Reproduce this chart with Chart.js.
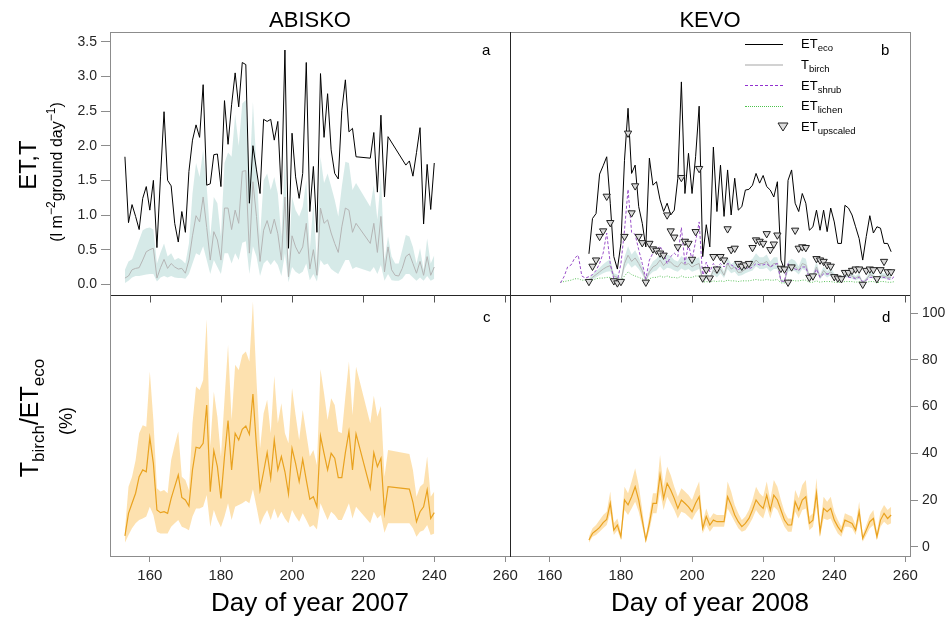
<!DOCTYPE html>
<html>
<head>
<meta charset="utf-8">
<script src="https://cdn.jsdelivr.net/npm/chart.js@4/dist/chart.umd.min.js"></script>
<style>
  body { margin: 0; background: #fff; font-family: "Liberation Sans", Arial, sans-serif; }
  #wrap { position: relative; width: 951px; height: 621px; overflow: hidden; }
  canvas { position: absolute; left: 0; top: 0; }
  .t { position: absolute; white-space: nowrap; color: #000; line-height: 1; }
  .rot { transform: translate(-50%, -50%) rotate(-90deg); }
  .lg { position: absolute; left: 801px; font-size: 13px; line-height: 16px; white-space: nowrap; }
  .lg sub { font-size: 9.5px; vertical-align: -3px; }
  .smp { position: absolute; left: 745px; width: 38px; height: 0; }
  .letter { position: absolute; font-size: 15px; line-height: 1; }
</style>
</head>
<body>
<div id="wrap">
  <canvas id="cA" width="951" height="621"></canvas>
  <canvas id="cB" width="951" height="621"></canvas>
  <canvas id="cC" width="951" height="621"></canvas>
  <canvas id="cD" width="951" height="621"></canvas>

  <div class="t rot" style="left:28px; top:165px; font-size:24px;">ET,T</div>
  <div class="t rot" style="left:55px; top:172px; font-size:16px;">(l m<sup style="font-size:12px">−2</sup>ground day<sup style="font-size:12px">−1</sup>)</div>
  <div class="t rot" style="left:32px; top:418px; font-size:25px;">T<sub style="font-size:17px">birch</sub>/ET<sub style="font-size:17px">eco</sub></div>
  <div class="t rot" style="left:66px; top:421px; font-size:18px;">(%)</div>

  <div class="letter" style="left:482px; top:42px;">a</div>
  <div class="letter" style="left:881px; top:42px;">b</div>
  <div class="letter" style="left:483px; top:309px;">c</div>
  <div class="letter" style="left:882px; top:309px;">d</div>

  <div class="smp" style="top:44px; border-top:1px solid #000;"></div>
  <div class="smp" style="top:64px; border-top:2px solid #d2d2d2;"></div>
  <div class="smp" style="top:85px; border-top:1px dashed #9230d0;"></div>
  <div class="smp" style="top:106px; border-top:1px dotted #4cc24c;"></div>
  <svg style="position:absolute; left:777px; top:122px;" width="12" height="10"><polygon points="1,1 11,1 6,9" fill="#ddd" stroke="#222" stroke-width="1"/></svg>
  <div class="lg" style="top:36px;">ET<sub>eco</sub></div>
  <div class="lg" style="top:57px;">T<sub>birch</sub></div>
  <div class="lg" style="top:78px;">ET<sub>shrub</sub></div>
  <div class="lg" style="top:98px;">ET<sub>lichen</sub></div>
  <div class="lg" style="top:119px;">ET<sub>upscaled</sub></div>
</div>
<script>
const FONT = '"Liberation Sans", Arial, sans-serif';

// tick labels
const dayTicks = [160, 180, 200, 220, 240, 260];
const etTicks = [0, 0.5, 1, 1.5, 2, 2.5, 3, 3.5];
const pctTicks = [0, 20, 40, 60, 80, 100];

// ---- Abisko 2007 ----
const abiskoEtDays = [153,154,155,156,157,158,159,160,161,162,163,164,165,166,167,168,169,170,171,172,
  173,174,175,176,177,178,179,180,181,182,183,184,185,186,187,188,189,190,191,192,
  193,194,195,196,197,198,199,200,201,202,203,204,205,206,207,208,209,210,211,212,
  213,214,215,216,217,218,222,223,224,225,226,227,232,233,234,235,236,237,238,239,240];
const abiskoEt = [1.84,0.89,1.15,0.98,0.79,1.24,1.41,1.07,1.50,0.53,1.55,2.49,1.50,1.42,0.88,0.61,1.05,0.75,1.63,2.08,
  2.30,2.12,2.88,1.43,1.45,1.87,1.88,1.41,2.65,2.02,2.59,3.05,2.56,3.20,3.17,1.17,2.00,1.65,1.31,2.38,
  2.35,2.38,2.08,2.35,1.30,3.38,0.52,2.18,1.55,1.24,1.60,3.20,1.05,1.70,0.75,3.04,2.12,2.75,1.94,1.60,
  1.52,2.51,2.95,2.20,2.25,1.84,1.82,2.19,1.33,2.44,1.26,2.13,1.72,1.78,1.56,1.90,2.26,0.87,1.73,1.08,1.75];

const abiskoTDays = [153,154,155,156,157,158,159,160,161,162,163,164,165,166,167,168,169,170,171,172,
  173,174,175,176,177,178,179,180,181,182,183,184,185,186,187,188,189,190,191,192,
  193,194,195,196,197,198,199,200,201,202,203,204,205,206,207,208,209,210,211,212,
  213,214,215,216,217,218,222,223,224,225,226,227,228,229,230,231,232,233,234,235,
  236,237,238,239,240];
const abiskoT = [0.09,0.12,0.21,0.23,0.24,0.35,0.47,0.50,0.52,0.09,0.24,0.36,0.23,0.30,0.25,0.22,0.23,0.16,0.35,0.70,
  0.99,0.90,1.26,0.82,0.35,0.76,0.64,0.35,1.10,1.10,0.79,1.07,0.88,1.63,1.64,0.45,1.48,0.98,0.33,0.78,
  0.92,0.73,0.94,0.73,0.35,1.26,0.11,0.70,0.54,0.44,0.54,0.88,0.22,0.50,0.13,1.10,0.88,0.93,0.74,0.59,
  0.46,0.83,1.10,1.07,0.75,0.88,0.59,0.88,0.46,0.98,0.18,0.54,0.21,0.13,0.12,0.23,0.40,0.44,0.30,0.16,
  0.33,0.13,0.40,0.13,0.25];
const abiskoTHi = [0.21,0.33,0.36,0.50,0.64,0.78,0.81,0.82,0.79,0.30,0.46,0.59,0.40,0.45,0.35,0.38,0.35,0.30,0.59,1.31,
  1.75,1.55,1.94,1.41,0.69,1.26,1.17,0.69,1.75,1.90,1.84,2.45,2.00,2.61,2.66,1.50,2.63,1.70,0.69,1.50,
  1.60,1.36,1.55,1.31,0.69,1.84,0.30,1.26,1.07,0.98,1.12,1.50,0.50,1.17,0.30,1.84,1.46,1.60,1.41,1.22,
  0.98,1.41,1.77,1.75,1.36,1.46,1.12,1.43,0.93,1.55,0.35,0.69,0.40,0.30,0.30,0.50,0.71,0.69,0.54,0.30,
  0.52,0.21,0.66,0.30,0.42];
const abiskoTLo = [0.02,0.05,0.10,0.12,0.12,0.13,0.14,0.15,0.15,0.04,0.10,0.12,0.10,0.12,0.10,0.09,0.09,0.08,0.15,0.30,
  0.45,0.42,0.55,0.35,0.15,0.35,0.25,0.15,0.45,0.45,0.30,0.45,0.35,0.60,0.62,0.15,0.55,0.40,0.12,0.30,
  0.35,0.28,0.35,0.28,0.12,0.45,0.03,0.25,0.18,0.15,0.18,0.30,0.06,0.15,0.04,0.35,0.28,0.30,0.22,0.18,
  0.15,0.25,0.35,0.35,0.22,0.25,0.18,0.25,0.15,0.28,0.05,0.15,0.06,0.05,0.05,0.08,0.15,0.15,0.10,0.05,
  0.10,0.05,0.12,0.05,0.08];

const abiskoRatioDays = [153,154,155,156,157,158,159,160,161,162,163,164,165,166,167,168,169,170,171,172,
  173,174,175,176,177,178,179,180,181,182,183,184,185,186,187,188,189,190,191,192,
  193,194,195,196,197,198,199,200,201,202,203,204,205,206,207,208,209,210,211,212,
  213,214,215,216,217,218,222,223,224,225,226,227,233,234,235,236,237,238,239,240];
const abiskoRatio = [4.6,14.3,18.6,22.9,30.0,32.9,32.1,46.7,35.7,15.7,14.6,15.0,14.3,20.7,25.7,30.7,21.1,20.0,17.4,32.9,
  42.6,42.1,44.3,60.7,23.6,41.1,34.3,20.7,38.6,54.0,32.9,48.6,45.7,50.3,51.7,48.1,65.4,42.9,24.3,32.1,
  40.3,29.3,45.7,32.9,38.6,32.1,22.6,42.1,35.7,27.9,37.4,28.6,20.3,21.4,17.1,47.4,40.0,32.9,40.0,37.9,
  29.6,29.6,40.3,49.3,32.9,48.3,25.0,40.3,34.3,37.9,14.6,25.7,24.7,19.0,10.7,15.0,17.1,24.3,12.1,14.6];
const abiskoRatioHi = [7.1,25.7,30.0,37.0,48.6,52.0,51.4,75.0,54.3,25.0,23.6,24.3,22.9,37.1,43.6,49.3,30.0,28.6,24.3,52.9,
  68.6,67.1,71.4,97.4,42.9,66.4,55.7,38.6,62.9,86.4,54.3,77.9,75.7,82.1,83.6,79.3,105.0,71.4,42.1,57.1,
  62.9,48.6,73.1,52.9,61.4,48.6,44.3,67.9,56.4,45.7,58.6,48.6,38.6,41.4,35.0,76.0,65.7,54.3,63.6,60.7,
  49.3,48.6,64.3,79.3,56.4,77.1,52.9,64.6,55.7,60.3,30.0,41.4,39.7,32.9,21.4,25.7,27.1,38.6,21.4,23.6];
const abiskoRatioLo = [1.7,5.0,7.9,10.0,11.4,12.1,12.9,17.1,13.6,6.4,5.7,5.7,5.7,8.6,10.0,11.4,8.6,7.9,7.1,12.9,
  16.4,16.4,17.1,22.1,8.6,15.7,11.4,8.3,12.9,18.6,11.4,17.1,17.9,18.6,19.7,18.6,24.6,17.1,9.3,12.9,
  15.7,11.4,16.4,12.1,15.0,12.1,10.0,15.7,12.9,10.7,14.3,11.4,8.3,9.3,7.4,18.6,15.0,11.4,15.0,13.6,
  11.4,11.4,15.0,18.6,12.1,17.1,10.0,15.0,12.1,13.6,6.0,10.0,10.0,7.9,4.3,6.4,7.1,9.3,5.0,5.7];

// ---- Kevo 2008 ----
const kevoDays = [171,172,173,174,175,176,177,178,179,180,181,182,183,184,185,186,187,188,189,190,
  191,192,193,194,195,196,197,198,199,200,201,202,203,204,205,206,207,208,209,210,
  211,212,213,214,215,216,217,218,219,220,221,222,223,224,225,226,227,228,229,230,
  231,232,233,234,235,236,237,238,239,240,241,242,243,244,245,246,247,248,249,250,
  251,252,253,254,255,256];
const kevoEt = [0.44,0.95,1.02,1.59,1.71,1.84,1.17,0.40,0.22,0.59,1.79,2.54,1.60,1.72,1.12,0.88,0.54,1.82,1.43,1.48,
  1.22,1.05,1.17,1.00,1.07,1.53,2.92,1.31,1.89,1.31,1.84,2.57,0.40,0.86,0.54,1.98,1.05,1.72,0.98,1.65,
  1.00,1.53,1.07,1.12,1.36,1.37,1.43,1.60,1.46,1.57,1.41,1.36,1.26,1.48,0.35,0.21,1.50,1.65,1.17,1.05,
  1.31,1.17,0.78,0.83,1.07,0.78,1.07,0.76,1.10,0.90,0.59,0.59,1.14,1.10,1.00,0.83,0.66,0.35,0.69,0.99,
  0.74,0.83,0.81,0.59,0.59,0.47];
const kevoUpscaled = [0.04,0.26,0.35,0.69,0.77,1.27,0.89,0.05,0.02,0.04,0.69,2.18,1.03,1.42,0.69,0.60,0.03,0.59,0.51,0.49,
  0.45,0.42,1.00,0.77,0.68,0.54,1.54,0.62,0.59,0.36,0.76,1.67,0.09,0.21,0.09,0.40,0.22,0.40,0.35,0.80,
  0.50,0.52,0.30,0.26,0.28,0.30,0.53,0.64,0.62,0.59,0.73,0.50,0.58,0.71,0.23,0.22,0.03,0.25,0.78,0.52,
  0.54,0.53,0.10,0.12,0.37,0.35,0.33,0.28,0.26,0.11,0.09,0.08,0.17,0.17,0.20,0.22,0.22,0.00,0.20,0.22,
  0.21,0.08,0.21,0.33,0.18,0.18];
const kevoT = [0.05,0.10,0.14,0.18,0.22,0.25,0.27,0.12,0.10,0.05,0.30,0.42,0.33,0.38,0.30,0.20,0.06,0.18,0.25,0.28,
  0.35,0.27,0.33,0.32,0.27,0.25,0.32,0.28,0.30,0.25,0.28,0.30,0.05,0.12,0.08,0.20,0.15,0.22,0.13,0.30,
  0.22,0.25,0.17,0.18,0.22,0.25,0.28,0.35,0.30,0.30,0.33,0.25,0.30,0.30,0.05,0.04,0.25,0.28,0.26,0.20,
  0.30,0.28,0.10,0.12,0.25,0.10,0.20,0.14,0.18,0.12,0.08,0.07,0.14,0.14,0.12,0.09,0.12,0.02,0.07,0.14,
  0.12,0.05,0.12,0.12,0.10,0.10];
const kevoTHi = [0.08,0.14,0.19,0.24,0.29,0.33,0.36,0.16,0.14,0.08,0.39,0.55,0.43,0.49,0.39,0.26,0.09,0.24,0.33,0.37,
  0.45,0.35,0.43,0.41,0.35,0.33,0.41,0.37,0.39,0.33,0.37,0.39,0.08,0.16,0.11,0.26,0.20,0.29,0.18,0.39,
  0.29,0.33,0.23,0.24,0.29,0.33,0.37,0.45,0.39,0.39,0.43,0.33,0.39,0.39,0.08,0.06,0.33,0.37,0.34,0.26,
  0.39,0.37,0.14,0.16,0.33,0.14,0.26,0.19,0.24,0.16,0.11,0.10,0.19,0.19,0.16,0.12,0.16,0.04,0.10,0.19,
  0.16,0.07,0.16,0.16,0.14,0.14];
const kevoTLo = [0.03,0.07,0.10,0.13,0.16,0.18,0.19,0.08,0.07,0.03,0.22,0.31,0.24,0.28,0.22,0.14,0.04,0.13,0.18,0.20,
  0.26,0.20,0.24,0.23,0.20,0.18,0.23,0.20,0.22,0.18,0.20,0.22,0.03,0.08,0.05,0.14,0.10,0.16,0.09,0.22,
  0.16,0.18,0.12,0.13,0.16,0.18,0.20,0.26,0.22,0.22,0.24,0.18,0.22,0.22,0.03,0.02,0.18,0.20,0.19,0.14,
  0.22,0.20,0.07,0.08,0.18,0.07,0.14,0.10,0.13,0.08,0.05,0.05,0.10,0.10,0.08,0.06,0.08,0.01,0.05,0.10,
  0.08,0.03,0.08,0.08,0.07,0.07];

const kevoUnderDays = [163,164,165,166,167,168,169,170,171,172,173,174,175,176,177,178,179,180,181,182,
  183,184,185,186,187,188,189,190,191,192,193,194,195,196,197,198,199,200,201,202,
  203,204,205,206,207,208,209,210,211,212,213,214,215,216,217,218,219,220,221,222,
  223,224,225,226,227,228,229,230,231,232,233,234,235,236,237,238,239,240,241,242,
  243,244,245,246,247,248,249,250,251,252,253,254,255,256,257];
const kevoShrub = [0.02,0.11,0.25,0.28,0.38,0.42,0.12,0.09,0.11,0.14,0.20,0.30,0.45,0.74,0.30,0.08,0.05,0.30,0.78,1.37,
  0.75,0.72,0.50,0.30,0.08,0.35,0.45,0.50,0.55,0.45,0.30,0.40,0.45,0.40,0.82,0.30,0.58,0.35,0.62,0.90,
  0.10,0.32,0.18,0.30,0.25,0.30,0.25,0.30,0.28,0.25,0.20,0.28,0.25,0.22,0.25,0.30,0.28,0.28,0.30,0.25,
  0.28,0.30,0.05,0.04,0.30,0.25,0.22,0.20,0.25,0.25,0.08,0.10,0.22,0.10,0.15,0.15,0.15,0.10,0.08,0.08,
  0.12,0.10,0.10,0.08,0.10,0.04,0.06,0.10,0.10,0.06,0.10,0.10,0.08,0.07,0.12];
const kevoLichen = [0.03,0.04,0.05,0.06,0.08,0.08,0.06,0.06,0.05,0.06,0.08,0.09,0.09,0.10,0.10,0.06,0.05,0.05,0.12,0.18,
  0.14,0.12,0.10,0.08,0.04,0.08,0.10,0.10,0.12,0.10,0.12,0.10,0.10,0.09,0.12,0.10,0.10,0.10,0.12,0.12,
  0.03,0.04,0.03,0.05,0.04,0.05,0.04,0.06,0.05,0.05,0.04,0.05,0.05,0.05,0.06,0.07,0.06,0.06,0.07,0.06,
  0.06,0.07,0.02,0.02,0.06,0.06,0.05,0.05,0.06,0.06,0.03,0.03,0.05,0.03,0.04,0.04,0.04,0.03,0.03,0.03,
  0.04,0.04,0.04,0.03,0.04,0.02,0.03,0.04,0.04,0.02,0.04,0.04,0.03,0.03,0.04];

const kevoRatio = [2.9,5.7,6.9,8.3,10.3,11.7,18.6,7.1,9.3,4.3,20.0,17.9,21.4,25.7,20.0,11.4,2.9,10.0,18.6,18.6,
  30.7,20.7,27.1,24.3,20.7,16.4,20.0,18.6,17.1,15.0,18.6,21.4,7.9,12.9,9.3,11.4,10.7,10.7,10.7,21.4,
  17.9,13.6,10.7,8.6,10.0,12.1,15.7,20.0,17.9,16.4,22.1,15.7,22.1,20.0,15.7,11.4,9.3,9.3,19.3,15.7,
  20.0,21.4,10.0,11.4,22.9,6.4,16.4,15.0,16.4,11.4,8.6,6.4,11.4,10.7,10.0,7.1,15.0,3.6,7.1,10.7,
  12.1,4.3,11.4,14.3,12.1,13.6];
const kevoRatioHi = [4.3,7.9,9.3,11.4,13.6,15.0,23.6,10.0,12.1,6.4,25.7,22.9,27.9,33.6,26.4,15.7,4.3,13.6,22.9,22.9,
  39.3,25.7,34.3,30.7,25.7,21.4,25.0,23.6,22.1,20.0,24.3,27.9,10.7,16.4,12.1,14.3,13.6,13.6,13.6,27.9,
  23.6,17.9,14.3,11.4,12.9,15.7,20.0,25.7,22.9,21.4,27.9,20.0,28.6,25.7,20.0,15.0,12.1,12.1,24.3,20.7,
  26.4,28.6,12.9,14.3,29.3,8.6,21.4,19.3,21.4,15.0,11.4,8.6,14.3,13.6,12.9,9.3,19.3,5.0,9.3,13.6,
  15.7,6.4,15.0,17.9,15.7,17.1];
const kevoRatioLo = [1.7,4.3,5.0,6.4,7.9,9.3,14.3,5.0,7.1,2.9,15.7,13.6,16.4,19.3,15.0,8.6,1.7,7.1,14.3,14.3,
  23.6,15.7,21.4,18.6,15.7,12.1,15.0,14.3,12.9,11.4,14.3,16.4,5.7,9.3,6.4,8.6,8.6,8.6,8.6,16.4,
  13.6,10.7,7.9,6.4,7.1,9.3,12.1,15.7,13.6,12.1,17.1,12.1,17.1,15.7,12.1,8.6,6.4,6.4,15.0,12.1,
  15.7,16.4,7.1,8.6,17.1,4.3,12.1,11.4,12.1,8.6,5.7,4.3,8.6,8.6,7.9,5.0,11.4,2.1,5.0,7.9,
  9.3,2.9,8.6,10.7,9.3,10.0];

const TEAL = 'rgba(120,185,180,0.3)';
const ORANGE_BAND = 'rgba(250,180,55,0.4)';
const ORANGE = '#e9a21f';

function pts(days, vals) {
  return days.map((d, i) => ({ x: d, y: vals[i] }));
}

Chart.defaults.font.family = FONT;
Chart.defaults.animation = false;
Chart.defaults.elements.point.radius = 0;
Chart.defaults.elements.line.tension = 0;

const framePlugin = {
  id: 'frame',
  afterDraw(chart, args, opts) {
    const { left, right, top, bottom } = chart.chartArea;
    const ctx = chart.ctx;
    const dark = opts.dark || [];
    const side = (name, x1, y1, x2, y2) => {
      ctx.strokeStyle = dark.includes(name) ? '#262626' : '#8c8c8c';
      ctx.beginPath();
      ctx.moveTo(x1, y1);
      ctx.lineTo(x2, y2);
      ctx.stroke();
    };
    ctx.save();
    ctx.lineWidth = 1;
    side('top', left, top + 0.5, right + 1, top + 0.5);
    side('bottom', left, bottom + 0.5, right + 1, bottom + 0.5);
    side('left', left + 0.5, top, left + 0.5, bottom + 1);
    side('right', right + 0.5, top, right + 0.5, bottom + 1);
    // inward ticks on the upper edge of the lower panels
    if (opts.innerTicks) {
      ctx.strokeStyle = '#555';
      dayTicks.forEach(v => {
        const x = Math.round(chart.scales.x.getPixelForValue(v)) + 0.5;
        ctx.beginPath();
        ctx.moveTo(x, top + 0.5);
        ctx.lineTo(x, top + 7.5);
        ctx.stroke();
      });
    }
    ctx.restore();
  }
};

function xScale(show, title) {
  return {
    type: 'linear', min: 148.8, max: 261.3, display: show,
    afterBuildTicks: s => { s.ticks = dayTicks.map(v => ({ value: v })); },
    afterFit: s => { if (show) s.height = 65; },
    grid: { drawOnChartArea: false, drawTicks: true, tickLength: 6, color: '#8c8c8c' },
    border: { display: false },
    ticks: { font: { size: 15 }, color: '#262626', padding: 5, maxRotation: 0 },
    title: { display: !!title, text: title, color: '#000', font: { size: 26 }, padding: { top: 0, bottom: 2 } }
  };
}

function topTitle(text) {
  return {
    display: true, text, color: '#000', fullSize: false,
    font: { size: 22, weight: 'normal', lineHeight: '23px' },
    padding: { top: 9, bottom: 0 }
  };
}

function baseOptions(padding, scales, plugins) {
  return {
    responsive: false,
    layout: { padding },
    scales,
    plugins: Object.assign({
      legend: { display: false },
      tooltip: { enabled: false },
      filler: { drawTime: 'beforeDatasetsDraw' }
    }, plugins)
  };
}

// a: Abisko ET and T
new Chart(document.getElementById('cA'), {
  type: 'line',
  data: {
    datasets: [
      { data: pts(abiskoEtDays, abiskoEt), borderColor: '#000', borderWidth: 1 },
      { data: pts(abiskoTDays, abiskoT), borderColor: '#b4b4b4', borderWidth: 1 },
      { data: pts(abiskoTDays, abiskoTHi), borderWidth: 0, backgroundColor: TEAL, fill: '+1' },
      { data: pts(abiskoTDays, abiskoTLo), borderWidth: 0, fill: false }
    ]
  },
  options: baseOptions({ left: 0, top: 0, right: 441, bottom: 326 }, {
    x: xScale(false),
    y: {
      min: -0.154, max: 3.64,
      afterBuildTicks: s => { s.ticks = etTicks.map(v => ({ value: v })); },
      afterFit: s => { s.width = 110; },
      grid: { drawOnChartArea: false, tickLength: 9, color: '#8c8c8c' },
      border: { display: false },
      ticks: { font: { size: 14 }, color: '#262626', padding: 4, callback: v => v.toFixed(1) }
    }
  }, { title: topTitle('ABISKO'), frame: { dark: ['right', 'bottom'] } }),
  plugins: [framePlugin]
});

// b: Kevo ET components
new Chart(document.getElementById('cB'), {
  type: 'line',
  data: {
    datasets: [
      { data: pts(kevoDays, kevoUpscaled), showLine: false, pointStyle: 'triangle', rotation: 180,
        pointRadius: 4.2, borderColor: '#222', backgroundColor: '#dadada', borderWidth: 1 },
      { data: pts(kevoDays, kevoEt), borderColor: '#000', borderWidth: 1 },
      { data: pts(kevoUnderDays, kevoShrub), borderColor: '#9a4fc9', borderWidth: 1, borderDash: [3, 2] },
      { data: pts(kevoUnderDays, kevoLichen), borderColor: '#5cc25c', borderWidth: 1, borderDash: [1, 1.5] },
      { data: pts(kevoDays, kevoT), borderColor: '#b4b4b4', borderWidth: 1 },
      { data: pts(kevoDays, kevoTHi), borderWidth: 0, backgroundColor: TEAL, fill: '+1' },
      { data: pts(kevoDays, kevoTLo), borderWidth: 0, fill: false }
    ]
  },
  options: baseOptions({ left: 510, top: 0, right: 41, bottom: 326 }, {
    x: xScale(false),
    y: { min: -0.154, max: 3.64, display: false }
  }, { title: topTitle('KEVO'), frame: { dark: ['left', 'bottom'] } }),
  plugins: [framePlugin]
});

// c: Abisko T/ET ratio
new Chart(document.getElementById('cC'), {
  type: 'line',
  data: {
    datasets: [
      { data: pts(abiskoRatioDays, abiskoRatio), borderColor: ORANGE, borderWidth: 1.2 },
      { data: pts(abiskoRatioDays, abiskoRatioHi), borderWidth: 0, backgroundColor: ORANGE_BAND, fill: '+1' },
      { data: pts(abiskoRatioDays, abiskoRatioLo), borderWidth: 0, fill: false }
    ]
  },
  options: baseOptions({ left: 110, top: 295, right: 441, bottom: 0 }, {
    x: xScale(true, 'Day of year 2007'),
    y: { min: -3.98, max: 107.8, display: false }
  }, { frame: { dark: ['top', 'right'], innerTicks: true } }),
  plugins: [framePlugin]
});

// d: Kevo T/ET ratio
new Chart(document.getElementById('cD'), {
  type: 'line',
  data: {
    datasets: [
      { data: pts(kevoDays, kevoRatio), borderColor: ORANGE, borderWidth: 1.2 },
      { data: pts(kevoDays, kevoRatioHi), borderWidth: 0, backgroundColor: ORANGE_BAND, fill: '+1' },
      { data: pts(kevoDays, kevoRatioLo), borderWidth: 0, fill: false }
    ]
  },
  options: baseOptions({ left: 510, top: 295, right: 0, bottom: 0 }, {
    x: xScale(true, 'Day of year 2008'),
    y: {
      position: 'right', min: -3.98, max: 107.8,
      afterBuildTicks: s => { s.ticks = pctTicks.map(v => ({ value: v })); },
      afterFit: s => { s.width = 41; },
      grid: { drawOnChartArea: false, tickLength: 8, color: '#8c8c8c' },
      border: { display: false },
      ticks: { font: { size: 14 }, color: '#262626', padding: 4 }
    }
  }, { frame: { dark: ['top', 'left'], innerTicks: true } }),
  plugins: [framePlugin]
});
</script>
</body>
</html>
